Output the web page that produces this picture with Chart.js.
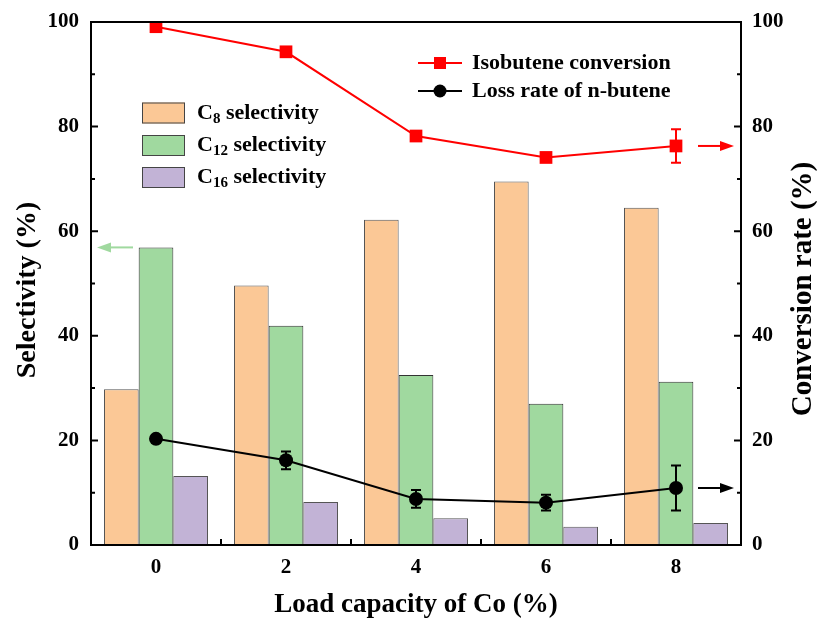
<!DOCTYPE html>
<html>
<head>
<meta charset="utf-8">
<script src="https://cdn.jsdelivr.net/npm/chart.js@4.4.1/dist/chart.umd.min.js"></script>
<style>
  html, body { margin: 0; padding: 0; background: #fff; }
  #wrap { width: 817px; height: 621px; position: relative; }
</style>
</head>
<body>
<div id="wrap"><canvas id="chart"></canvas></div>
<script>
// data
const loads = ['0', '2', '4', '6', '8'];
const c8Sel = [29.8, 49.6, 62.2, 69.5, 64.5];
const c12Sel = [56.9, 41.9, 32.5, 27.0, 31.2];
const c16Sel = [13.2, 8.2, 5.1, 3.5, 4.2];
const isoConv = [99.1, 94.3, 78.2, 74.1, 76.3];
const isoErr = [0, 0, 0, 0, 3.2];
const lossRate = [20.3, 16.2, 8.8, 8.1, 10.9];
const lossErr = [0, 1.7, 1.7, 1.5, 4.3];
const yTicks = [0, 20, 40, 60, 80, 100];

const FONT = '"Liberation Serif", "Times New Roman", serif';
const C8_COL = '#fbc896', C12_COL = '#a0d99f', C16_COL = '#c2b3d6';

function drawErr(ctx, xs, ys, vals, errs, color) {
    ctx.save();
    ctx.strokeStyle = color;
    ctx.lineWidth = 2;
    vals.forEach((v, i) => {
        if (!errs[i]) return;
        const px = xs.getPixelForValue(i);
        const top = ys.getPixelForValue(v + errs[i]);
        const bot = ys.getPixelForValue(v - errs[i]);
        ctx.beginPath();
        ctx.moveTo(px, top); ctx.lineTo(px, bot);
        ctx.moveTo(px - 5, top); ctx.lineTo(px + 5, top);
        ctx.moveTo(px - 5, bot); ctx.lineTo(px + 5, bot);
        ctx.stroke();
    });
    ctx.restore();
}

function drawArrow(ctx, x1, x2, y, color) {
    const dir = x2 > x1 ? 1 : -1;
    ctx.save();
    ctx.strokeStyle = color;
    ctx.fillStyle = color;
    ctx.lineWidth = 2;
    ctx.beginPath();
    ctx.moveTo(x1, y); ctx.lineTo(x2 - dir * 10, y);
    ctx.stroke();
    ctx.beginPath();
    ctx.moveTo(x2, y);
    ctx.lineTo(x2 - dir * 14, y - 5);
    ctx.lineTo(x2 - dir * 14, y + 5);
    ctx.closePath();
    ctx.fill();
    ctx.restore();
}

function subLabel(ctx, x, y, sub) {
    ctx.font = 'bold 22px ' + FONT;
    ctx.fillText('C', x, y);
    let w = ctx.measureText('C').width;
    ctx.font = 'bold 15px ' + FONT;
    ctx.fillText(sub, x + w, y + 6);
    w += ctx.measureText(sub).width;
    ctx.font = 'bold 22px ' + FONT;
    ctx.fillText(' selectivity', x + w, y);
}

const decor = {
    id: 'decor',
    afterDatasetsDraw(chart) {
        const ctx = chart.ctx;
        const xs = chart.scales.x, yr = chart.scales.yR;
        drawErr(ctx, xs, yr, isoConv, isoErr, '#ff0000');
        drawErr(ctx, xs, yr, lossRate, lossErr, '#000000');
    },
    afterDraw(chart) {
        const ctx = chart.ctx;
        const a = chart.chartArea;
        const xs = chart.scales.x, yl = chart.scales.y, yr = chart.scales.yR;

        // frame + inward ticks
        ctx.save();
        ctx.strokeStyle = '#000';
        ctx.lineWidth = 2;
        ctx.strokeRect(a.left, a.top, a.right - a.left, a.bottom - a.top);
        ctx.beginPath();
        for (let v = 0; v <= 100; v += 10) {
            const len = v % 20 === 0 ? 7 : 4;
            const py = yl.getPixelForValue(v);
            ctx.moveTo(a.left, py); ctx.lineTo(a.left + len, py);
            const pr = yr.getPixelForValue(v);
            ctx.moveTo(a.right, pr); ctx.lineTo(a.right - len, pr);
        }
        for (let i = 0; i < loads.length - 1; i++) {
            const px = (xs.getPixelForValue(i) + xs.getPixelForValue(i + 1)) / 2;
            ctx.moveTo(px, a.bottom); ctx.lineTo(px, a.bottom - 6);
        }
        ctx.stroke();
        ctx.restore();

        // arrows pointing to each axis
        drawArrow(ctx, 133, 97, yl.getPixelForValue(c12Sel[0]), C12_COL);
        drawArrow(ctx, 698, 734, yr.getPixelForValue(isoConv[4]), '#ff0000');
        drawArrow(ctx, 698, 734, yr.getPixelForValue(lossRate[4]), '#000000');

        ctx.save();
        ctx.fillStyle = '#000';
        ctx.textBaseline = 'middle';
        ctx.textAlign = 'left';

        // line legend
        const lx = 418, rows = [63, 91];
        ctx.lineWidth = 2;
        ctx.strokeStyle = '#ff0000';
        ctx.beginPath(); ctx.moveTo(lx, rows[0]); ctx.lineTo(lx + 44, rows[0]); ctx.stroke();
        ctx.fillStyle = '#ff0000';
        ctx.fillRect(lx + 16, rows[0] - 6, 12, 12);
        ctx.strokeStyle = '#000';
        ctx.beginPath(); ctx.moveTo(lx, rows[1]); ctx.lineTo(lx + 44, rows[1]); ctx.stroke();
        ctx.fillStyle = '#000';
        ctx.beginPath(); ctx.arc(lx + 22, rows[1], 6.5, 0, Math.PI * 2); ctx.fill();
        ctx.font = 'bold 22px ' + FONT;
        ctx.fillText('Isobutene conversion', 472, rows[0]);
        ctx.fillText('Loss rate of n-butene', 472, rows[1]);

        // bar legend
        const boxes = [[113, C8_COL, '8'], [145.5, C12_COL, '12'], [177.5, C16_COL, '16']];
        boxes.forEach(b => {
            ctx.fillStyle = b[1];
            ctx.fillRect(142, b[0] - 10.5, 43, 21);
            ctx.strokeStyle = '#444';
            ctx.lineWidth = 1;
            ctx.strokeRect(142.5, b[0] - 10, 42, 20);
            ctx.fillStyle = '#000';
            subLabel(ctx, 197, b[0], b[2]);
        });

        // axis titles
        ctx.textAlign = 'center';
        ctx.font = 'bold 27px ' + FONT;
        ctx.fillText('Load capacity of Co (%)', (a.left + a.right) / 2, 605);
        ctx.save();
        ctx.translate(28, 290);
        ctx.rotate(-Math.PI / 2);
        ctx.font = 'bold 28px ' + FONT;
        ctx.fillText('Selectivity (%)', 0, 0);
        ctx.restore();
        ctx.save();
        ctx.translate(804, 289);
        ctx.rotate(-Math.PI / 2);
        ctx.font = 'bold 29px ' + FONT;
        ctx.fillText('Conversion rate (%)', 0, 0);
        ctx.restore();
        ctx.restore();
    }
};

const tickFont = { family: FONT, size: 21, weight: 'bold' };

function fitY(width) {
    return s => { s.width = width; s.paddingTop = 0; s.paddingBottom = 0; };
}

new Chart(document.getElementById('chart'), {
    data: {
        labels: loads,
        datasets: [
            { type: 'line', label: 'Isobutene conversion', data: isoConv, yAxisID: 'yR', order: 0,
              borderColor: '#ff0000', backgroundColor: '#ff0000', borderWidth: 2,
              pointStyle: 'rect', pointRadius: 9, pointBorderWidth: 0 },
            { type: 'line', label: 'Loss rate of n-butene', data: lossRate, yAxisID: 'yR', order: 0,
              borderColor: '#000000', backgroundColor: '#000000', borderWidth: 2,
              pointStyle: 'circle', pointRadius: 7, pointBorderWidth: 0 },
            { type: 'bar', label: 'C8 selectivity', data: c8Sel, yAxisID: 'y', order: 1,
              backgroundColor: C8_COL, borderColor: '#555', borderWidth: 1 },
            { type: 'bar', label: 'C12 selectivity', data: c12Sel, yAxisID: 'y', order: 1,
              backgroundColor: C12_COL, borderColor: '#333', borderWidth: 1 },
            { type: 'bar', label: 'C16 selectivity', data: c16Sel, yAxisID: 'y', order: 1,
              backgroundColor: C16_COL, borderColor: '#555', borderWidth: 1 }
        ]
    },
    options: {
        responsive: true,
        maintainAspectRatio: false,
        animation: false,
        layout: { padding: { top: 22, left: 0, right: 0, bottom: 0 } },
        datasets: { bar: { categoryPercentage: 0.8, barPercentage: 1.0 } },
        plugins: { legend: { display: false }, tooltip: { enabled: false } },
        scales: {
            x: {
                grid: { display: false, drawTicks: false },
                border: { display: false },
                ticks: { font: tickFont, color: '#000', padding: 10 },
                afterFit: s => { s.height = 76; s.paddingLeft = 0; s.paddingRight = 0; }
            },
            y: {
                position: 'left', min: 0, max: 100,
                grid: { display: false, drawTicks: false },
                border: { display: false },
                afterBuildTicks: s => { s.ticks = yTicks.map(v => ({ value: v })); },
                ticks: { font: tickFont, color: '#000', padding: 12 },
                afterFit: fitY(91)
            },
            yR: {
                position: 'right', min: 0, max: 100,
                grid: { display: false, drawTicks: false },
                border: { display: false },
                afterBuildTicks: s => { s.ticks = yTicks.map(v => ({ value: v })); },
                ticks: { font: tickFont, color: '#000', padding: 11 },
                afterFit: fitY(76)
            }
        }
    },
    plugins: [decor]
});
</script>
</body>
</html>
